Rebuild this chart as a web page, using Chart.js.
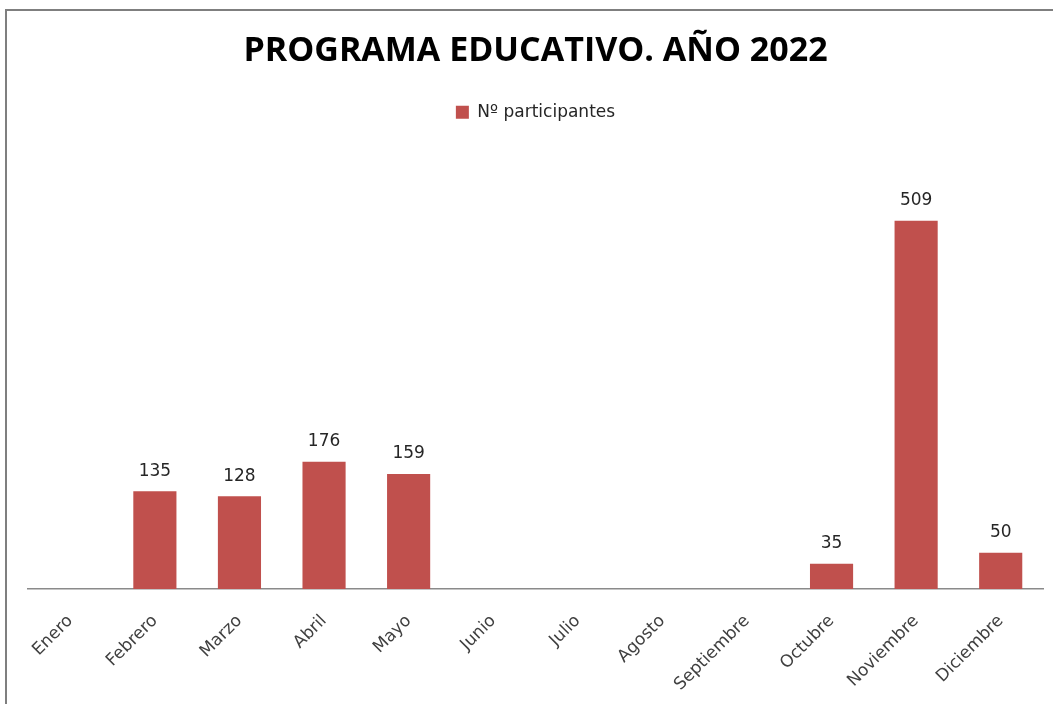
<!DOCTYPE html>
<html lang="es">
<head>
<meta charset="UTF-8">
<title>Programa educativo 2022</title>
<style>
  body {
    margin: 0;
    background: #fff;
  }
  #marco {
    position: absolute;
    left: 5px;
    top: 9px;
    width: 1048px;
    height: 695px;
    border-top: 2px solid #7f7f7f;
    border-left: 2px solid #7f7f7f;
  }
</style>
<script src="https://cdn.jsdelivr.net/npm/chart.js@4/dist/chart.umd.min.js"></script>
</head>
<body>
<div id="marco">
  <canvas id="grafico" width="1046" height="693"></canvas>
</div>

<script>
// datos
var meses = ['Enero', 'Febrero', 'Marzo', 'Abril', 'Mayo', 'Junio', 'Julio',
             'Agosto', 'Septiembre', 'Octubre', 'Noviembre', 'Diciembre'];
var participantes = [null, 135, 128, 176, 159, null, null, null, null, 35, 509, 50];
var nombreSerie = 'Nº participantes';
var titulo = 'PROGRAMA EDUCATIVO. AÑO 2022';

var fuenteTitulo = "'Open Sans', 'DejaVu Sans', sans-serif";
var fuente = "'DejaVu Sans', sans-serif";

// etiquetas encima de cada barra
var etiquetasBarras = {
  id: 'etiquetasBarras',
  afterDatasetsDraw: function(chart) {
    var ctx = chart.ctx;
    var meta = chart.getDatasetMeta(0);
    ctx.save();
    ctx.font = '17px ' + fuente;
    ctx.fillStyle = '#262626';
    ctx.textAlign = 'center';
    ctx.textBaseline = 'middle';
    meta.data.forEach(function(bar, i) {
      var v = participantes[i];
      if (v == null) return;
      ctx.fillText(String(v), bar.x, bar.y - 20);
    });
    ctx.restore();
  }
};

// mas espacio debajo de la leyenda
var espacioLeyenda = {
  id: 'espacioLeyenda',
  beforeInit: function(chart) {
    var fitOriginal = chart.legend.fit;
    chart.legend.fit = function() {
      fitOriginal.bind(chart.legend)();
      this.height += 24;
    };
  }
};

var ctx = document.getElementById('grafico').getContext('2d');
var grafico = new Chart(ctx, {
  type: 'bar',
  data: {
    labels: meses,
    datasets: [{
      label: nombreSerie,
      data: participantes,
      backgroundColor: '#C0504D',
      borderColor: '#C0504D',
      borderWidth: 0,
      barPercentage: 0.51,
      categoryPercentage: 1.0
    }]
  },
  options: {
    responsive: false,
    animation: false,
    layout: {
      padding: { left: 21, right: 10, top: 0, bottom: 0 }
    },
    plugins: {
      title: {
        display: true,
        text: titulo,
        color: '#000',
        font: { family: fuenteTitulo, size: 34, weight: 'bold' },
        padding: { top: 20, bottom: 22 }
      },
      legend: {
        display: true,
        position: 'top',
        labels: {
          color: '#262626',
          font: { family: fuente, size: 17 },
          boxWidth: 13,
          boxHeight: 13,
          padding: 10
        }
      },
      tooltip: { enabled: false }
    },
    scales: {
      x: {
        grid: { display: false, drawTicks: false },
        border: { display: true, color: '#8a8a8a', width: 1.5 },
        ticks: {
          color: '#404040',
          font: { family: fuente, size: 17 },
          minRotation: 45,
          maxRotation: 45,
          padding: 22
        },
        afterFit: function(scale) {
          scale.height = 115;
        }
      },
      y: {
        display: false,
        min: 0,
        max: 600
      }
    }
  },
  plugins: [etiquetasBarras, espacioLeyenda]
});
</script>
</body>
</html>
